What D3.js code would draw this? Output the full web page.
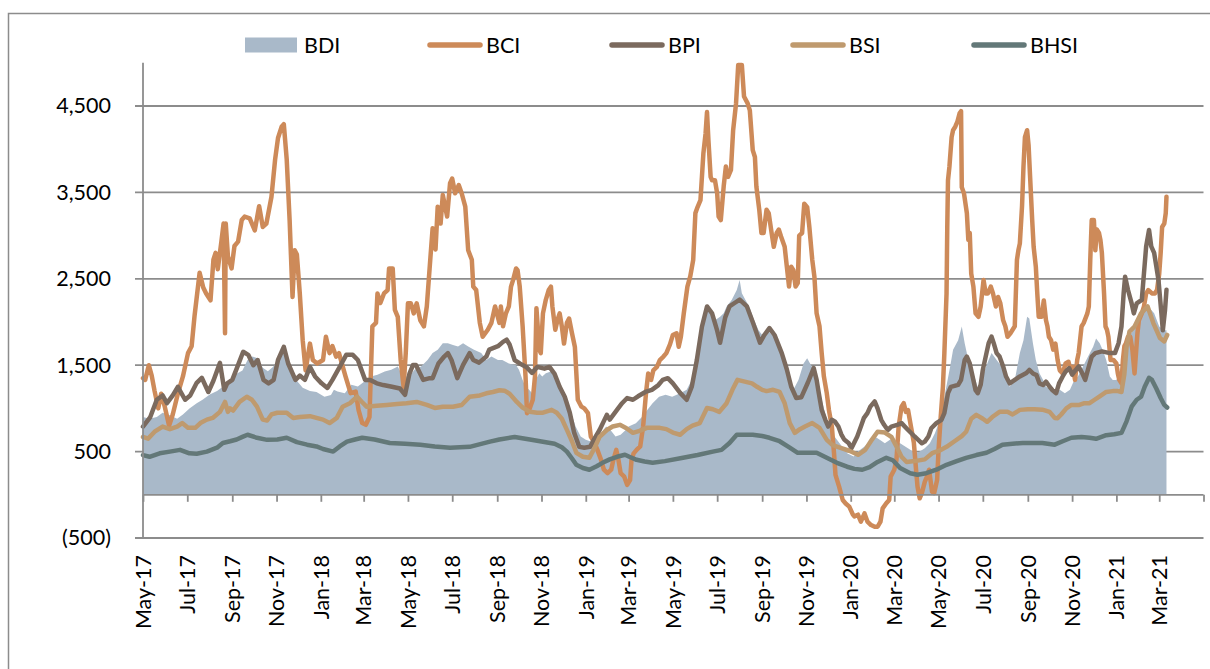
<!DOCTYPE html>
<html>
<head>
<meta charset="utf-8">
<script src="https://cdn.jsdelivr.net/npm/d3@7/dist/d3.min.js"></script>
<style>
body { margin:0; background:#fff; }
text { font-family: Lato, "Open Sans", sans-serif; fill:#000; }
</style>
</head>
<body>
<svg id="chart"></svg>
<script>
// series names + colours (legend order)
var seriesNames = ["BDI", "BCI", "BPI", "BSI", "BHSI"];
var seriesColors = ["#a9b9c9", "#cd8a59", "#7b6a5e", "#bf9a6e", "#637878"];

var yTicks = [-500, 500, 1500, 2500, 3500, 4500];
var xTickLabels = ["May-17","Jul-17","Sep-17","Nov-17","Jan-18","Mar-18","May-18","Jul-18","Sep-18","Nov-18",
    "Jan-19","Mar-19","May-19","Jul-19","Sep-19","Nov-19","Jan-20","Mar-20","May-20","Jul-20","Sep-20","Nov-20","Jan-21","Mar-21"];

var bdiData = [
["2017-05-01",900],["2017-05-10",880],["2017-05-20",900],["2017-05-28",950],["2017-06-07",920],["2017-06-17",880],
["2017-06-25",930],["2017-07-04",1000],["2017-07-14",1060],["2017-07-22",1100],["2017-08-01",1160],["2017-08-11",1200],
["2017-08-19",1250],["2017-08-29",1320],["2017-09-07",1400],["2017-09-15",1440],["2017-09-22",1560],["2017-09-29",1600],
["2017-10-06",1580],["2017-10-13",1470],["2017-10-20",1430],["2017-10-27",1480],["2017-11-03",1560],["2017-11-10",1650],
["2017-11-15",1620],["2017-11-22",1470],["2017-11-29",1320],["2017-12-07",1240],["2017-12-17",1200],["2017-12-26",1190],
["2018-01-06",1135],["2018-01-15",1155],["2018-01-19",1215],["2018-01-24",1195],["2018-02-03",1176],["2018-02-12",1273],
["2018-02-21",1253],["2018-03-02",1310],["2018-03-11",1369],["2018-03-20",1390],["2018-03-30",1427],["2018-04-08",1446],
["2018-04-17",1485],["2018-04-24",1370],["2018-05-03",1370],["2018-05-10",1446],["2018-05-19",1485],["2018-05-28",1560],
["2018-06-04",1640],["2018-06-11",1680],["2018-06-18",1755],["2018-06-25",1755],["2018-07-02",1735],["2018-07-09",1715],
["2018-07-16",1755],["2018-07-23",1715],["2018-07-31",1680],["2018-08-10",1640],["2018-08-17",1560],["2018-08-24",1600],
["2018-09-02",1560],["2018-09-08",1560],["2018-09-17",1520],["2018-09-27",1500],["2018-10-01",1446],["2018-10-06",1330],
["2018-10-10",1250],["2018-10-15",1215],["2018-10-19",1176],["2018-10-24",1330],["2018-10-29",1407],["2018-11-02",1370],
["2018-11-07",1407],["2018-11-14",1427],["2018-11-21",1330],["2018-11-28",1215],["2018-12-05",1100],["2018-12-12",945],
["2018-12-18",790],["2018-12-25",675],["2019-01-01",636],["2019-01-08",617],["2019-01-15",675],["2019-01-22",713],
["2019-01-29",790],["2019-02-04",750],["2019-02-11",675],["2019-02-18",694],["2019-02-25",750],["2019-03-01",790],
["2019-03-11",829],["2019-03-20",906],["2019-03-27",983],["2019-04-03",1060],["2019-04-12",1135],["2019-04-21",1157],
["2019-04-30",1135],["2019-05-11",1176],["2019-05-20",1215],["2019-05-27",1330],["2019-06-01",1560],["2019-06-05",1790],
["2019-06-10",2020],["2019-06-15",2140],["2019-06-22",2100],["2019-06-28",2020],["2019-07-05",2060],["2019-07-10",2100],
["2019-07-14",2180],["2019-07-21",2255],["2019-07-28",2370],["2019-08-01",2485],["2019-08-04",2333],["2019-08-09",2255],
["2019-08-14",2180],["2019-08-21",2020],["2019-08-27",1905],["2019-09-03",1830],["2019-09-10",1890],["2019-09-17",1830],
["2019-09-24",1755],["2019-09-28",1640],["2019-10-03",1500],["2019-10-07",1330],["2019-10-14",1215],["2019-10-21",1330],
["2019-10-28",1520],["2019-11-02",1580],["2019-11-06",1520],["2019-11-11",1446],["2019-11-15",1330],["2019-11-22",1100],
["2019-11-29",870],["2019-12-06",715],["2019-12-13",636],["2019-12-20",560],["2019-12-27",482],["2020-01-05",443],
["2020-01-11",500],["2020-01-20",560],["2020-01-27",617],["2020-02-03",675],["2020-02-10",636],["2020-02-17",596],
["2020-02-24",636],["2020-03-02",617],["2020-03-09",596],["2020-03-16",560],["2020-03-23",520],["2020-03-30",482],
["2020-04-05",500],["2020-04-12",540],["2020-04-19",596],["2020-04-26",713],["2020-05-03",868],["2020-05-10",1176],
["2020-05-17",1485],["2020-05-21",1680],["2020-05-28",1790],["2020-06-02",1948],["2020-06-06",1755],["2020-06-11",1560],
["2020-06-18",1407],["2020-06-25",1215],["2020-07-02",1407],["2020-07-09",1560],["2020-07-13",1640],["2020-07-20",1560],
["2020-07-27",1485],["2020-08-03",1330],["2020-08-07",1250],["2020-08-14",1330],["2020-08-21",1640],["2020-08-26",1790],
["2020-08-31",2060],["2020-09-03",2040],["2020-09-08",1755],["2020-09-12",1560],["2020-09-17",1407],["2020-09-22",1330],
["2020-09-26",1250],["2020-10-03",1215],["2020-10-10",1176],["2020-10-15",1215],["2020-10-22",1176],["2020-10-29",1215],
["2020-11-04",1330],["2020-11-09",1370],["2020-11-16",1485],["2020-11-23",1600],["2020-11-30",1714],["2020-12-04",1810],
["2020-12-09",1755],["2020-12-13",1680],["2020-12-18",1560],["2020-12-23",1370],["2020-12-27",1330],["2021-01-01",1330],
["2021-01-05",1407],["2021-01-10",1560],["2021-01-14",1714],["2021-01-19",1830],["2021-01-26",1948],["2021-02-02",1990],
["2021-02-09",2140],["2021-02-13",2160],["2021-02-18",2140],["2021-02-22",2100],["2021-03-01",1948],["2021-03-08",1905],
["2021-03-11",1905]
];

var bciData = [
["2017-05-01",1350],["2017-05-04",1330],["2017-05-09",1500],["2017-05-13",1380],["2017-05-17",1200],["2017-05-22",1000],
["2017-05-26",1170],["2017-05-31",1020],["2017-06-06",800],["2017-06-11",930],["2017-06-18",1170],["2017-06-25",1370],
["2017-07-02",1640],["2017-07-07",1720],["2017-07-11",2070],["2017-07-18",2570],["2017-07-23",2400],["2017-07-27",2330],
["2017-08-02",2250],["2017-08-06",2720],["2017-08-09",2800],["2017-08-12",2610],["2017-08-17",2930],["2017-08-20",3140],
["2017-08-22",1870],["2017-08-23",3140],["2017-08-26",2760],["2017-08-31",2620],["2017-09-04",2880],["2017-09-09",2930],
["2017-09-14",3180],["2017-09-18",3220],["2017-09-25",3200],["2017-10-02",3060],["2017-10-08",3340],["2017-10-13",3100],
["2017-10-18",3140],["2017-10-25",3450],["2017-10-30",3880],["2017-11-03",4130],["2017-11-08",4260],["2017-11-11",4290],
["2017-11-15",3880],["2017-11-19",3180],["2017-11-23",2290],["2017-11-26",2830],["2017-11-29",2780],["2017-12-03",2330],
["2017-12-07",1790],["2017-12-11",1440],["2017-12-17",1750],["2017-12-21",1560],["2017-12-27",1520],["2018-01-04",1560],
["2018-01-08",1830],["2018-01-13",1640],["2018-01-17",1720],["2018-01-22",1600],["2018-01-26",1640],["2018-01-31",1490],
["2018-02-04",1370],["2018-02-11",1176],["2018-02-18",1195],["2018-02-22",980],["2018-02-27",830],["2018-03-04",810],
["2018-03-09",900],["2018-03-13",1950],["2018-03-18",1990],["2018-03-20",2330],["2018-03-24",2220],["2018-03-29",2330],
["2018-04-03",2370],["2018-04-05",2620],["2018-04-10",2620],["2018-04-13",2140],["2018-04-17",2060],["2018-04-21",1560],
["2018-04-25",1250],["2018-04-28",1640],["2018-05-01",2216],["2018-05-05",2216],["2018-05-09",2100],["2018-05-13",2216],
["2018-05-18",2020],["2018-05-23",1950],["2018-05-27",2180],["2018-06-01",2750],["2018-06-04",3085],["2018-06-08",2840],
["2018-06-11",3335],["2018-06-15",3140],["2018-06-18",3470],["2018-06-24",3220],["2018-06-28",3606],["2018-07-01",3660],
["2018-07-05",3490],["2018-07-10",3585],["2018-07-14",3490],["2018-07-19",3335],["2018-07-23",2830],["2018-07-28",2720],
["2018-07-30",2410],["2018-08-03",2370],["2018-08-08",1990],["2018-08-12",1830],["2018-08-19",1910],["2018-08-24",1990],
["2018-08-29",2180],["2018-09-04",1990],["2018-09-06",2180],["2018-09-09",1950],["2018-09-13",2100],["2018-09-17",2180],
["2018-09-20",2410],["2018-09-23",2490],["2018-09-27",2620],["2018-09-29",2600],["2018-10-02",2410],["2018-10-06",1950],
["2018-10-10",1370],["2018-10-12",945],["2018-10-15",980],["2018-10-20",1100],["2018-10-23",1370],["2018-10-25",2160],
["2018-10-29",1680],["2018-10-31",1640],["2018-11-03",2100],["2018-11-07",2260],["2018-11-11",2370],["2018-11-14",2410],
["2018-11-16",2180],["2018-11-20",1910],["2018-11-23",2020],["2018-11-26",2100],["2018-11-29",1950],["2018-12-02",1750],
["2018-12-06",1990],["2018-12-09",2040],["2018-12-13",1870],["2018-12-17",1710],["2018-12-21",1100],["2018-12-26",1020],
["2018-12-30",1000],["2019-01-04",945],["2019-01-08",673],["2019-01-13",600],["2019-01-17",520],["2019-01-22",405],
["2019-01-26",290],["2019-01-31",250],["2019-02-05",290],["2019-02-08",405],["2019-02-12",520],["2019-02-15",405],
["2019-02-18",250],["2019-02-23",210],["2019-02-27",115],["2019-03-03",170],["2019-03-05",405],["2019-03-08",480],
["2019-03-12",520],["2019-03-17",560],["2019-03-21",790],["2019-03-25",1180],["2019-03-28",1405],["2019-04-01",1330],
["2019-04-04",1440],["2019-04-09",1480],["2019-04-13",1560],["2019-04-18",1600],["2019-04-22",1640],["2019-04-27",1740],
["2019-05-01",1850],["2019-05-06",1870],["2019-05-09",1714],["2019-05-12",1830],["2019-05-16",2100],["2019-05-21",2410],
["2019-05-25",2530],["2019-05-29",2720],["2019-06-01",3260],["2019-06-04",3330],["2019-06-08",3410],["2019-06-12",3950],
["2019-06-15",4180],["2019-06-17",4430],["2019-06-19",4100],["2019-06-22",3680],["2019-06-24",3640],["2019-06-28",3640],
["2019-07-01",3490],["2019-07-03",3220],["2019-07-06",3180],["2019-07-10",3570],["2019-07-13",3800],["2019-07-16",3680],
["2019-07-20",3760],["2019-07-23",4220],["2019-07-27",4530],["2019-07-30",4975],["2019-08-04",4975],["2019-08-07",4610],
["2019-08-12",4530],["2019-08-15",4450],["2019-08-19",3990],["2019-08-22",3910],["2019-08-24",3570],["2019-08-28",3300],
["2019-08-31",3030],["2019-09-03",3030],["2019-09-07",3300],["2019-09-10",3260],["2019-09-14",3030],["2019-09-17",2870],
["2019-09-21",3030],["2019-09-24",3070],["2019-09-27",2990],["2019-10-02",2870],["2019-10-05",2640],["2019-10-08",2410],
["2019-10-11",2640],["2019-10-14",2600],["2019-10-17",2410],["2019-10-20",2450],["2019-10-22",3000],["2019-10-26",3030],
["2019-10-29",3370],["2019-11-02",3330],["2019-11-05",3100],["2019-11-09",2720],["2019-11-12",2520],["2019-11-15",2100],
["2019-11-19",1950],["2019-11-22",1640],["2019-11-25",1370],["2019-11-29",1176],["2019-12-02",980],["2019-12-06",790],
["2019-12-09",480],["2019-12-11",230],["2019-12-16",95],["2019-12-21",-60],["2019-12-25",-100],["2019-12-30",-137],
["2020-01-04",-230],["2020-01-06",-250],["2020-01-11",-230],["2020-01-15",-310],["2020-01-20",-215],["2020-01-24",-310],
["2020-01-29",-350],["2020-02-03",-370],["2020-02-07",-370],["2020-02-11",-310],["2020-02-14",-157],["2020-02-19",-98],
["2020-02-23",-60],["2020-02-25",210],["2020-03-01",290],["2020-03-04",403],["2020-03-07",788],["2020-03-11",1020],
["2020-03-14",1060],["2020-03-17",960],["2020-03-20",980],["2020-03-24",790],["2020-03-28",600],["2020-03-31",290],
["2020-04-02",96],["2020-04-05",-40],["2020-04-08",20],["2020-04-12",150],["2020-04-15",210],["2020-04-18",290],
["2020-04-22",37],["2020-04-25",20],["2020-04-29",170],["2020-05-01",520],["2020-05-04",906],["2020-05-07",1250],
["2020-05-09",1640],["2020-05-12",2330],["2020-05-13",3100],["2020-05-14",3640],["2020-05-16",3800],["2020-05-19",4140],
["2020-05-21",4220],["2020-05-24",4260],["2020-05-27",4320],["2020-05-30",4415],["2020-06-01",4440],["2020-06-02",3560],
["2020-06-05",3490],["2020-06-09",3260],["2020-06-11",2950],["2020-06-13",3030],["2020-06-15",2560],["2020-06-18",2410],
["2020-06-21",2100],["2020-06-25",2060],["2020-06-28",2180],["2020-07-02",2485],["2020-07-05",2330],["2020-07-08",2330],
["2020-07-12",2410],["2020-07-15",2330],["2020-07-19",2180],["2020-07-22",2290],["2020-07-25",2220],["2020-07-29",2020],
["2020-08-01",1950],["2020-08-04",1830],["2020-08-08",1870],["2020-08-11",1910],["2020-08-14",1950],["2020-08-17",2720],
["2020-08-19",2830],["2020-08-21",2910],["2020-08-24",3340],["2020-08-26",3800],["2020-08-28",4140],["2020-08-31",4220],
["2020-09-02",4050],["2020-09-04",3700],["2020-09-07",3180],["2020-09-09",2870],["2020-09-12",2640],["2020-09-14",2330],
["2020-09-16",2060],["2020-09-20",2060],["2020-09-23",2250],["2020-09-26",2020],["2020-09-28",1950],["2020-09-30",1830],
["2020-10-03",1790],["2020-10-06",1680],["2020-10-09",1750],["2020-10-12",1560],["2020-10-15",1440],["2020-10-19",1405],
["2020-10-23",1520],["2020-10-27",1540],["2020-10-30",1440],["2020-11-02",1480],["2020-11-05",1330],["2020-11-08",1560],
["2020-11-10",1640],["2020-11-14",1948],["2020-11-17",1990],["2020-11-22",2100],["2020-11-24",2180],["2020-11-26",2720],
["2020-11-28",3180],["2020-12-01",3180],["2020-12-03",2830],["2020-12-05",3070],["2020-12-08",3030],["2020-12-10",2950],
["2020-12-12",2800],["2020-12-15",2330],["2020-12-17",1948],["2020-12-19",1910],["2020-12-21",1830],["2020-12-24",1560],
["2020-12-28",1560],["2021-01-01",1520],["2021-01-03",1405],["2021-01-05",1330],["2021-01-08",1290],["2021-01-10",1560],
["2021-01-12",1720],["2021-01-14",1750],["2021-01-17",1830],["2021-01-20",1830],["2021-01-23",1680],["2021-01-26",1405],
["2021-01-28",1640],["2021-01-30",1870],["2021-02-01",2020],["2021-02-05",2100],["2021-02-08",2180],["2021-02-11",2330],
["2021-02-14",2370],["2021-02-19",2330],["2021-02-23",2330],["2021-02-26",2370],["2021-03-01",2560],["2021-03-03",2800],
["2021-03-05",3100],["2021-03-08",3140],["2021-03-10",3260],["2021-03-11",3450]
];

var bpiData = [
["2017-05-01",790],["2017-05-11",900],["2017-05-20",1100],["2017-05-28",1150],["2017-06-03",1060],["2017-06-11",1150],
["2017-06-18",1250],["2017-06-28",1100],["2017-07-05",1150],["2017-07-14",1296],["2017-07-21",1354],["2017-07-30",1190],
["2017-08-06",1320],["2017-08-15",1527],["2017-08-21",1215],["2017-08-25",1290],["2017-09-01",1330],["2017-09-08",1480],
["2017-09-16",1655],["2017-09-23",1620],["2017-09-30",1500],["2017-10-06",1560],["2017-10-14",1330],["2017-10-21",1290],
["2017-10-28",1330],["2017-11-03",1560],["2017-11-11",1713],["2017-11-17",1520],["2017-11-27",1330],["2017-12-03",1380],
["2017-12-10",1330],["2017-12-17",1480],["2017-12-24",1370],["2018-01-02",1290],["2018-01-10",1237],["2018-01-17",1330],
["2018-01-27",1480],["2018-02-05",1620],["2018-02-14",1620],["2018-02-21",1560],["2018-03-03",1330],["2018-03-10",1330],
["2018-03-19",1290],["2018-03-28",1270],["2018-04-09",1250],["2018-04-20",1230],["2018-04-27",1157],["2018-05-03",1400],
["2018-05-08",1503],["2018-05-12",1503],["2018-05-22",1330],["2018-05-31",1350],["2018-06-04",1350],["2018-06-12",1520],
["2018-06-20",1600],["2018-06-25",1640],["2018-06-30",1560],["2018-07-08",1350],["2018-07-16",1503],["2018-07-25",1640],
["2018-07-30",1560],["2018-08-07",1530],["2018-08-17",1600],["2018-08-21",1680],["2018-09-02",1720],["2018-09-09",1770],
["2018-09-14",1795],["2018-09-18",1740],["2018-09-25",1560],["2018-10-02",1520],["2018-10-11",1480],["2018-10-19",1410],
["2018-10-26",1480],["2018-11-05",1460],["2018-11-12",1480],["2018-11-19",1400],["2018-11-26",1250],["2018-12-03",1135],
["2018-12-10",950],["2018-12-16",717],["2018-12-23",555],["2018-12-30",545],["2019-01-07",555],["2019-01-11",620],
["2019-01-20",750],["2019-01-30",925],["2019-02-03",870],["2019-02-13",983],["2019-02-20",1060],["2019-02-27",1120],
["2019-03-07",1100],["2019-03-14",1140],["2019-03-24",1190],["2019-04-02",1215],["2019-04-11",1270],["2019-04-17",1330],
["2019-04-24",1350],["2019-05-01",1290],["2019-05-11",1180],["2019-05-20",1100],["2019-05-27",1250],["2019-06-03",1560],
["2019-06-10",1945],["2019-06-17",2180],["2019-06-24",2100],["2019-07-01",1900],["2019-07-05",1760],["2019-07-12",2050],
["2019-07-18",2180],["2019-07-25",2220],["2019-08-01",2260],["2019-08-11",2180],["2019-08-19",2000],["2019-08-29",1760],
["2019-09-04",1850],["2019-09-11",1930],["2019-09-18",1850],["2019-09-28",1640],["2019-10-05",1450],["2019-10-11",1250],
["2019-10-18",1120],["2019-10-25",1130],["2019-11-03",1300],["2019-11-11",1466],["2019-11-15",1330],["2019-11-18",1176],
["2019-11-22",983],["2019-11-27",868],["2019-12-01",790],["2019-12-06",868],["2019-12-10",850],["2019-12-15",790],
["2019-12-19",700],["2019-12-23",640],["2019-12-29",600],["2020-01-02",540],["2020-01-10",675],["2020-01-15",790],
["2020-01-19",887],["2020-01-24",945],["2020-01-28",1020],["2020-02-03",1080],["2020-02-07",1000],["2020-02-12",868],
["2020-02-16",810],["2020-02-21",750],["2020-02-26",790],["2020-03-05",810],["2020-03-11",830],["2020-03-20",750],
["2020-03-29",675],["2020-04-08",596],["2020-04-12",615],["2020-04-17",675],["2020-04-21",770],["2020-04-28",830],
["2020-05-05",868],["2020-05-09",945],["2020-05-14",1176],["2020-05-18",1250],["2020-05-28",1273],["2020-06-01",1330],
["2020-06-06",1560],["2020-06-09",1600],["2020-06-13",1520],["2020-06-16",1405],["2020-06-21",1210],["2020-06-24",1176],
["2020-06-28",1273],["2020-07-01",1446],["2020-07-06",1640],["2020-07-09",1755],["2020-07-13",1831],["2020-07-16",1755],
["2020-07-20",1640],["2020-07-24",1600],["2020-07-29",1485],["2020-08-02",1369],["2020-08-07",1290],["2020-08-14",1330],
["2020-08-21",1370],["2020-08-30",1410],["2020-09-03",1445],["2020-09-08",1405],["2020-09-13",1385],["2020-09-17",1290],
["2020-09-22",1270],["2020-09-26",1310],["2020-10-01",1250],["2020-10-05",1210],["2020-10-10",1176],["2020-10-14",1290],
["2020-10-19",1370],["2020-10-23",1425],["2020-10-28",1466],["2020-11-01",1390],["2020-11-06",1445],["2020-11-10",1485],
["2020-11-15",1405],["2020-11-19",1330],["2020-11-24",1485],["2020-11-28",1600],["2020-12-03",1640],["2020-12-12",1660],
["2020-12-23",1640],["2020-12-30",1640],["2021-01-04",1755],["2021-01-08",1948],["2021-01-11",2333],["2021-01-13",2525],
["2021-01-17",2370],["2021-01-22",2215],["2021-01-25",2100],["2021-01-29",2215],["2021-02-05",2255],["2021-02-08",2565],
["2021-02-11",2875],["2021-02-15",3065],["2021-02-18",2875],["2021-02-22",2800],["2021-02-25",2645],["2021-02-28",2485],
["2021-03-04",2100],["2021-03-06",1905],["2021-03-09",2140],["2021-03-11",2372]
];

var bsiData = [
["2017-05-01",670],["2017-05-08",650],["2017-05-17",730],["2017-05-28",790],["2017-06-07",760],["2017-06-17",790],
["2017-06-24",830],["2017-07-02",775],["2017-07-12",775],["2017-07-19",830],["2017-07-28",870],["2017-08-05",890],
["2017-08-15",960],["2017-08-22",1075],["2017-08-26",960],["2017-08-29",1000],["2017-09-02",975],["2017-09-11",1075],
["2017-09-21",1135],["2017-09-28",1100],["2017-10-05",1020],["2017-10-13",870],["2017-10-19",860],["2017-10-25",930],
["2017-11-02",950],["2017-11-15",950],["2017-11-24",890],["2017-12-03",900],["2017-12-17",910],["2017-12-26",890],
["2018-01-04",870],["2018-01-13",830],["2018-01-23",890],["2018-01-31",1020],["2018-02-10",1060],["2018-02-20",1135],
["2018-02-26",1080],["2018-03-05",1020],["2018-03-19",1030],["2018-04-02",1040],["2018-04-16",1050],["2018-04-29",1060],
["2018-05-13",1075],["2018-05-27",1040],["2018-06-07",1005],["2018-06-18",1020],["2018-07-02",1020],["2018-07-14",1040],
["2018-07-25",1135],["2018-08-08",1150],["2018-08-17",1175],["2018-08-26",1190],["2018-09-04",1210],["2018-09-11",1205],
["2018-09-18",1170],["2018-09-28",1075],["2018-10-06",1010],["2018-10-16",960],["2018-10-26",950],["2018-11-03",950],
["2018-11-15",983],["2018-11-22",950],["2018-11-29",880],["2018-12-06",752],["2018-12-13",620],["2018-12-19",486],
["2018-12-28",440],["2019-01-06",430],["2019-01-13",540],["2019-01-20",670],["2019-01-30",750],["2019-02-07",790],
["2019-02-17",810],["2019-02-26",770],["2019-03-07",717],["2019-03-16",740],["2019-03-26",775],["2019-04-03",775],
["2019-04-13",775],["2019-04-22",760],["2019-05-01",720],["2019-05-11",695],["2019-05-20",760],["2019-05-28",800],
["2019-06-07",830],["2019-06-11",900],["2019-06-17",1005],["2019-06-25",990],["2019-07-04",960],["2019-07-14",1060],
["2019-07-22",1215],["2019-07-29",1330],["2019-08-08",1310],["2019-08-18",1290],["2019-08-25",1250],["2019-09-01",1215],
["2019-09-07",1200],["2019-09-16",1215],["2019-09-25",1190],["2019-10-02",1060],["2019-10-09",830],["2019-10-16",717],
["2019-10-23",760],["2019-10-30",790],["2019-11-09",830],["2019-11-19",775],["2019-11-29",636],["2019-12-07",575],
["2019-12-17",545],["2019-12-30",510],["2020-01-11",463],["2020-01-21",520],["2020-01-30",636],["2020-02-07",730],
["2020-02-17",720],["2020-02-26",670],["2020-03-04",560],["2020-03-11",440],["2020-03-18",380],["2020-03-29",390],
["2020-04-12",410],["2020-04-23",486],["2020-05-02",510],["2020-05-12",555],["2020-05-23",620],["2020-06-02",680],
["2020-06-08",730],["2020-06-15",880],["2020-06-22",925],["2020-07-01",880],["2020-07-07",845],["2020-07-14",900],
["2020-07-24",960],["2020-08-04",960],["2020-08-11",930],["2020-08-21",983],["2020-09-01",990],["2020-09-10",990],
["2020-09-21",985],["2020-10-01",960],["2020-10-08",890],["2020-10-12",887],["2020-10-17",930],["2020-10-24",1000],
["2020-10-31",1040],["2020-11-11",1040],["2020-11-18",1060],["2020-11-25",1060],["2020-12-02",1100],["2020-12-09",1140],
["2020-12-18",1190],["2020-12-27",1200],["2021-01-03",1200],["2021-01-08",1190],["2021-01-12",1400],["2021-01-15",1714],
["2021-01-19",1888],["2021-01-26",1948],["2021-02-04",2100],["2021-02-13",2180],["2021-02-21",1985],["2021-02-25",1910],
["2021-03-02",1815],["2021-03-08",1775],["2021-03-12",1850]
];

var bhsiData = [
["2017-05-01",460],["2017-05-10",440],["2017-05-24",480],["2017-06-07",500],["2017-06-21",520],["2017-07-04",480],
["2017-07-14",475],["2017-07-28",500],["2017-08-11",545],["2017-08-19",600],["2017-08-29",620],["2017-09-07",640],
["2017-09-15",670],["2017-09-22",695],["2017-10-05",660],["2017-10-19",636],["2017-11-02",640],["2017-11-15",660],
["2017-11-29",610],["2017-12-13",580],["2017-12-26",560],["2018-01-04",530],["2018-01-18",500],["2018-01-27",560],
["2018-02-06",615],["2018-02-17",640],["2018-02-27",660],["2018-03-16",640],["2018-04-06",600],["2018-04-27",590],
["2018-05-18",580],["2018-06-07",560],["2018-06-28",545],["2018-07-25",555],["2018-08-22",615],["2018-09-04",640],
["2018-09-25",670],["2018-10-16",640],["2018-11-03",615],["2018-11-19",590],["2018-11-29",550],["2018-12-06",500],
["2018-12-13",420],["2018-12-19",347],["2018-12-28",310],["2019-01-06",290],["2019-01-16",330],["2019-01-24",370],
["2019-02-03",410],["2019-02-13",440],["2019-02-24",463],["2019-03-02",440],["2019-03-12",405],["2019-03-23",385],
["2019-04-03",370],["2019-04-20",390],["2019-05-15",428],["2019-06-04",460],["2019-06-25",500],["2019-07-07",520],
["2019-07-18",600],["2019-07-28",695],["2019-08-08",695],["2019-08-19",695],["2019-09-01",680],["2019-09-11",660],
["2019-09-25",620],["2019-10-09",545],["2019-10-20",486],["2019-11-03",486],["2019-11-15",486],["2019-11-29",428],
["2019-12-13",370],["2019-12-27",325],["2020-01-06",300],["2020-01-17",290],["2020-01-27",320],["2020-02-07",380],
["2020-02-19",428],["2020-02-28",400],["2020-03-09",310],["2020-03-23",250],["2020-04-02",232],["2020-04-14",250],
["2020-04-28",290],["2020-05-12",347],["2020-05-26",390],["2020-06-08",428],["2020-06-22",460],["2020-07-06",486],
["2020-07-17",530],["2020-07-28",580],["2020-08-11",590],["2020-08-25",600],["2020-09-07",600],["2020-09-21",600],
["2020-10-08",580],["2020-10-19",620],["2020-10-31",660],["2020-11-14",670],["2020-11-25",660],["2020-12-04",648],
["2020-12-18",690],["2020-12-29",700],["2021-01-08",717],["2021-01-15",850],["2021-01-22",1020],["2021-01-29",1100],
["2021-02-04",1135],["2021-02-09",1250],["2021-02-15",1354],["2021-02-19",1330],["2021-02-25",1230],["2021-03-03",1120],
["2021-03-08",1040],["2021-03-12",1010]
];

var parseDate = d3.timeParse("%Y-%m-%d");

var initGraph = function()
{
    var screen = {width: 1210, height: 669}
    var plot = {left: 143, right: 1203.5, top: 62.8, bottom: 538}

    var svg = d3.select("#chart")
        .attr("width", screen.width)
        .attr("height", screen.height)

    // outer frame, runs off the right and bottom edge
    svg.append("rect")
        .attr("x", 8.5)
        .attr("y", 13.5)
        .attr("width", 1300)
        .attr("height", 800)
        .attr("fill", "none")
        .attr("stroke", "#8c8c8c")
        .attr("stroke-width", 1.5)

    var xScale = d3.scaleTime()
        .domain([parseDate("2017-05-01"), parseDate("2021-05-01")])
        .range([plot.left, plot.right])

    var yScale = d3.scaleLinear()
        .domain([-500, 5000])
        .range([plot.bottom, plot.top])

    drawGrid(svg, plot, xScale, yScale);
    drawArea(svg, xScale, yScale);
    drawLines(svg, xScale, yScale);
    drawAxis(svg, plot, xScale, yScale);
    drawLegend(svg);
}

var drawGrid = function(svg, plot, xScale, yScale)
{
    svg.append("g")
        .selectAll("line")
        .data(yTicks)
        .enter()
        .append("line")
        .attr("x1", plot.left - 8)
        .attr("x2", plot.right)
        .attr("y1", function(d) { return yScale(d); })
        .attr("y2", function(d) { return yScale(d); })
        .attr("stroke", "#8c8c8c")
        .attr("stroke-width", 1.8)
}

var drawArea = function(svg, xScale, yScale)
{
    var area = d3.area()
        .x(function(d) { return xScale(parseDate(d[0])); })
        .y0(yScale(0))
        .y1(function(d) { return yScale(d[1]); })

    svg.append("path")
        .datum(bdiData)
        .attr("d", area)
        .attr("fill", seriesColors[0])
}

var drawLines = function(svg, xScale, yScale)
{
    var line = d3.line()
        .x(function(d) { return xScale(parseDate(d[0])); })
        .y(function(d) { return yScale(d[1]); })

    var lineData = [bciData, bpiData, bsiData, bhsiData];

    svg.append("g")
        .selectAll("path")
        .data(lineData)
        .enter()
        .append("path")
        .attr("d", line)
        .attr("fill", "none")
        .attr("stroke", function(d, i) { return seriesColors[i + 1]; })
        .attr("stroke-width", 4.5)
        .attr("stroke-linejoin", "round")
        .attr("stroke-linecap", "round")
}

var drawAxis = function(svg, plot, xScale, yScale)
{
    var axisColor = "#8c8c8c";

    // value axis line
    svg.append("line")
        .attr("x1", plot.left).attr("x2", plot.left)
        .attr("y1", plot.top).attr("y2", plot.bottom)
        .attr("stroke", axisColor)
        .attr("stroke-width", 1.8)

    var yAxis = d3.axisLeft(yScale)
        .tickValues(yTicks)
        .tickSize(0)
        .tickPadding(32)
        .tickFormat(function(d) {
            return d < 0 ? "(" + d3.format(",")(-d) + ")" : d3.format(",")(d);
        })

    var yg = svg.append("g")
        .attr("transform", "translate(" + plot.left + ",0)")
        .call(yAxis)
    yg.select(".domain").remove()
    yg.selectAll("text")
        .attr("font-size", 21.5)
        .attr("font-family", "Lato, sans-serif")
        .attr("fill", "#000")

    // category axis sits on zero
    var tickDates = d3.timeMonth.every(2).range(parseDate("2017-05-01"), parseDate("2021-05-02"));

    var xAxis = d3.axisBottom(xScale)
        .tickValues(tickDates)
        .tickSize(7)
        .tickFormat("")

    var xg = svg.append("g")
        .attr("transform", "translate(0," + yScale(0) + ")")
        .call(xAxis)
    xg.select(".domain")
        .attr("stroke", axisColor)
        .attr("stroke-width", 1.8)
        .attr("d", "M" + plot.left + ",0H" + plot.right)
    xg.selectAll(".tick line")
        .attr("stroke", axisColor)
        .attr("stroke-width", 1.8)

    // labels at the low end, rotated
    var labelDates = tickDates.slice(0, xTickLabels.length);
    svg.append("g")
        .selectAll("text")
        .data(labelDates)
        .enter()
        .append("text")
        .text(function(d, i) { return xTickLabels[i]; })
        .attr("text-anchor", "end")
        .attr("dy", "0.36em")
        .attr("font-size", 21.5)
        .attr("transform", function(d) {
            return "translate(" + xScale(d) + ",555) rotate(-90)";
        })
}

var drawLegend = function(svg)
{
    var legendX = [245, 427, 609, 790, 971];
    var legendY = 45;

    var legend = svg.append("g")

    legend.append("rect")
        .attr("x", legendX[0])
        .attr("y", legendY - 7.5)
        .attr("width", 52)
        .attr("height", 15)
        .attr("fill", seriesColors[0])

    legend.selectAll("line")
        .data(seriesNames.slice(1))
        .enter()
        .append("line")
        .attr("x1", function(d, i) { return legendX[i + 1] + 3; })
        .attr("x2", function(d, i) { return legendX[i + 1] + 53; })
        .attr("y1", legendY)
        .attr("y2", legendY)
        .attr("stroke", function(d, i) { return seriesColors[i + 1]; })
        .attr("stroke-width", 5.5)
        .attr("stroke-linecap", "round")

    legend.selectAll("text")
        .data(seriesNames)
        .enter()
        .append("text")
        .text(function(d) { return d; })
        .attr("x", function(d, i) { return legendX[i] + 59; })
        .attr("y", legendY)
        .attr("dy", "0.36em")
        .attr("font-size", 21.5)
}

initGraph();
</script>
</body>
</html>
